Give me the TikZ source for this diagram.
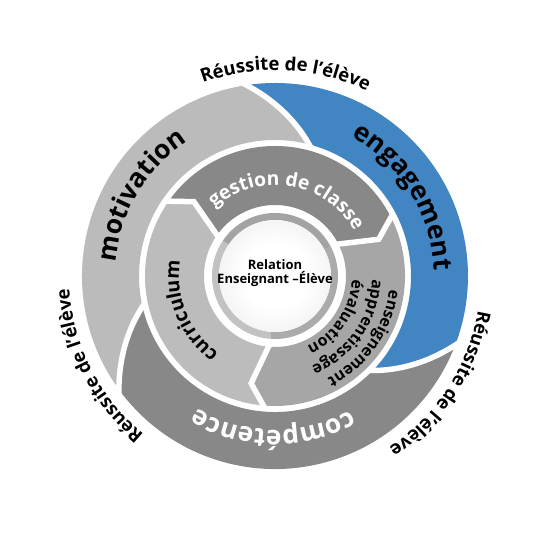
\documentclass[tikz,border=0pt]{standalone}
\usepackage{fontspec}
\setmainfont{Open Sans}
\usetikzlibrary{decorations.text}
\definecolor{cmot}{HTML}{BBBBBB}
\definecolor{ceng}{HTML}{4285C3}
\definecolor{ccomp}{HTML}{888888}
\definecolor{cges}{HTML}{888888}
\definecolor{ccur}{HTML}{BCBCBC}
\definecolor{cens}{HTML}{A6A6A6}
\definecolor{ringA}{HTML}{A3A3A3}
\definecolor{ringB}{HTML}{C2C2C2}
\definecolor{ringC}{HTML}{ABABAB}
\pgfdeclareradialshading{diskshade}{\pgfpoint{0bp}{0bp}}{color(0bp)=(white); color(14bp)=(white); color(50bp)=(black!13)}
\newcommand\lblfont{\fontsize{10.5}{12}\selectfont\bfseries}
\newcommand\bigfont{\fontsize{15}{18}\selectfont\bfseries}
\newcommand\midfont{\fontsize{11}{13}\selectfont\bfseries}
\newcommand\smfont{\fontsize{9}{11}\selectfont\bfseries}
\begin{document}
\begin{tikzpicture}[x=0.2mm,y=0.2mm,
  cutline/.style={white, line width=1.1mm},
  curvetext/.style={decorate, decoration={text along path, text align=center, text={#1}}}]
\fill[white] (-275,-274) rectangle (275,276);
\useasboundingbox (-275,-274) rectangle (275,276);
% outer ring bands
\fill[cmot] (216:193) arc[start angle=216, end angle=98.5, radius=193]
  -- plot[domain=0:1,samples=16,variable=\t] ({98.5-23*\t}:{193-57*\t})
  arc[start angle=75.5, end angle=193, radius=136]
  -- plot[domain=1:0,samples=16,variable=\t] ({216-23*\t}:{193-57*\t}) -- cycle;
\fill[ceng] (98.5:193) arc[start angle=98.5, end angle=-21, radius=193]
  -- plot[domain=0:1,samples=16,variable=\t] ({-21-23*\t}:{193-57*\t})
  arc[start angle=-44, end angle=75.5, radius=136]
  -- plot[domain=1:0,samples=16,variable=\t] ({98.5-23*\t}:{193-57*\t}) -- cycle;
\fill[ccomp] (-21:193) arc[start angle=-21, end angle=-144, radius=193]
  -- plot[domain=0:1,samples=16,variable=\t] ({-144-23*\t}:{193-57*\t})
  arc[start angle=-167, end angle=-44, radius=136]
  -- plot[domain=1:0,samples=16,variable=\t] ({-21-23*\t}:{193-57*\t}) -- cycle;
\foreach \o in {98.5,-21,-144}
  \draw[cutline] plot[domain=-0.08:1.08,samples=20,variable=\t] ({\o-23*\t}:{193-57*\t});
% inner ring
\fill[cges] (146:130) arc[start angle=146, end angle=28, radius=130] -- (19.5:110) -- (28:71)
  arc[start angle=28, end angle=146, radius=71] -- (137.5:110) -- cycle;
\fill[cens] (28:130) arc[start angle=28, end angle=-94, radius=130] -- (-102.5:110) -- (-94:71)
  arc[start angle=-94, end angle=28, radius=71] -- (19.5:110) -- cycle;
\fill[ccur] (-94:130) arc[start angle=-94, end angle=-214, radius=130] -- (-222.5:110) -- (-214:71)
  arc[start angle=-214, end angle=-94, radius=71] -- (-102.5:110) -- cycle;
\foreach \p in {146,28,-94}
  \draw[cutline, line join=miter] (\p:134) -- ({\p-8.5}:110) -- (\p:67);
% centre
\fill[ringA] (28:63) arc[start angle=28, end angle=146, radius=63] -- (146:56) arc[start angle=146, end angle=28, radius=56] -- cycle;
\fill[ringB] (146:63) arc[start angle=146, end angle=266, radius=63] -- (266:56) arc[start angle=266, end angle=146, radius=56] -- cycle;
\fill[ringC] (266:63) arc[start angle=266, end angle=388, radius=63] -- (388:56) arc[start angle=388, end angle=266, radius=56] -- cycle;
\shade[shading=diskshade] (0,0) circle[radius=56];
\node[align=center, font=\fontsize{7.4}{8.4}\selectfont\bfseries] (ctr) at (0,3) {Relation\\Enseignant –Élève};
% labels
\path[curvetext={|\lblfont|Réussite de l'élève}] (147:206) arc[start angle=147, end angle=27, radius=206];
\path[curvetext={|\lblfont|Réussite de l'élève}] (27:206) arc[start angle=27, end angle=-93, radius=206];
\path[curvetext={|\lblfont|Réussite de l'élève}] (267:206) arc[start angle=267, end angle=147, radius=206];
% band texts
\path[curvetext={|\bigfont|motivation}] (209:160) arc[start angle=209, end angle=89, radius=160];
\path[curvetext={|\bigfont|engagement}] (91.6:159) arc[start angle=91.6, end angle=-28.4, radius=159];
\path[curvetext={|\bigfont\color{white}|compétence}] (-30.6:154) arc[start angle=-30.6, end angle=-150.6, radius=154];
\path[curvetext={|\midfont\color{white}|gestion de classe}] (155.5:91) arc[start angle=155.5, end angle=5.5, radius=91];
\path[curvetext={|\midfont|curriculum}] (262.4:96) arc[start angle=262.4, end angle=142.4, radius=96];
\path[curvetext={|\smfont|enseignement}] (25:115) arc[start angle=25, end angle=-95, radius=115];
\path[curvetext={|\smfont|apprentissage}] (25:97) arc[start angle=25, end angle=-95, radius=97];
\path[curvetext={|\smfont|évaluation}] (26:77) arc[start angle=26, end angle=-94, radius=77];
\end{tikzpicture}
\end{document}
